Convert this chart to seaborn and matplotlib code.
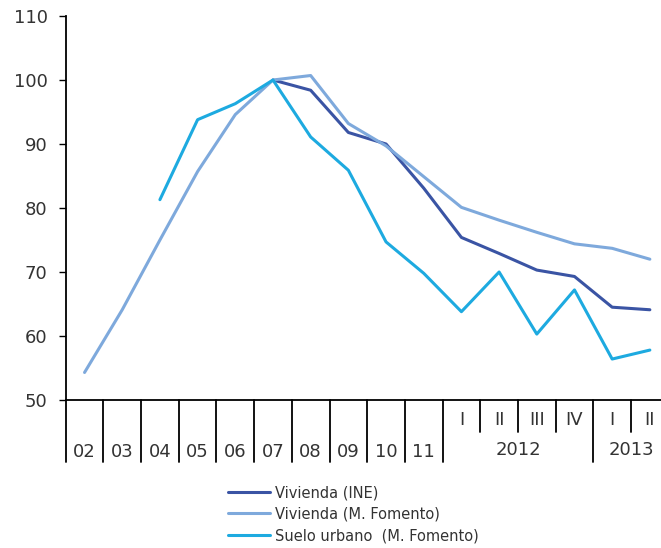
import matplotlib.pyplot as plt
import matplotlib.transforms as mtransforms
import seaborn as sns
import pandas as pd
import numpy as np

periods = ["02", "03", "04", "05", "06", "07", "08", "09", "10", "11",
           "2012 I", "2012 II", "2012 III", "2012 IV", "2013 I", "2013 II"]
tick_labels = ["02", "03", "04", "05", "06", "07", "08", "09", "10", "11",
               "I", "II", "III", "IV", "I", "II"]
years = ["2012", "2013"]

vivienda_ine = [np.nan, np.nan, np.nan, np.nan, np.nan, 100.0, 98.4, 91.8, 90.0, 83.1,
                75.4, 72.9, 70.3, 69.3, 64.5, 64.1]
vivienda_fomento = [54.3, 64.1, 75.0, 85.7, 94.6, 100.0, 100.7, 93.2, 89.7, 84.9,
                    80.1, 78.1, 76.2, 74.4, 73.7, 72.0]
suelo_urbano = [np.nan, np.nan, 81.3, 93.8, 96.3, 100.0, 91.1, 85.9, 74.7, 69.8,
                63.8, 70.0, 60.3, 67.2, 56.4, 57.8]

names = ["Vivienda (INE)", "Vivienda (M. Fomento)", "Suelo urbano  (M. Fomento)"]
colors = ["#3A54A4", "#7EA9DC", "#1DAAE0"]

rows = []
for name, vals in zip(names, [vivienda_ine, vivienda_fomento, suelo_urbano]):
    for i, v in enumerate(vals):
        rows.append({"serie": name, "pos": i, "valor": v})
df = pd.DataFrame(rows).dropna()

sns.set_theme(style="white")
plt.rcParams['font.family'] = ['DejaVu Sans']

fig = plt.figure(figsize=(6.61, 5.48), dpi=100)
W, H = 661, 548
ax = fig.add_axes([65.7 / W, 148 / H, 603 / W, 384 / H])

sns.lineplot(data=df, x="pos", y="valor", hue="serie", hue_order=names,
             palette=colors, linewidth=2.2, ax=ax, legend=True)

ax.set_xlim(-0.5, 15.5)
ax.set_ylim(50, 110)
ax.set_yticks(np.arange(50, 111, 10))
ax.set_xticks([])
ax.set_xlabel("")
ax.set_ylabel("")
ax.tick_params(axis="y", length=5, width=1, color="black", labelsize=13,
               labelcolor="#333333", pad=8, left=True, direction="out")
for s in ["top", "right"]:
    ax.spines[s].set_visible(False)
for s in ["left", "bottom"]:
    ax.spines[s].set_color("black")
    ax.spines[s].set_linewidth(1.3)

# multi-level category axis
trans = mtransforms.blended_transform_factory(ax.transData, ax.transAxes)
full = 62 / 384
short = 31.7 / 384
for b in np.arange(-0.5, 16, 1.0):
    length = short if b in (10.5, 11.5, 12.5, 14.5) else full
    ax.plot([b, b], [0, -length], transform=trans, color="black", lw=1.3,
            clip_on=False)

for i, lab in enumerate(tick_labels):
    y = -51.7 / 384 if i < 10 else -20 / 384
    ax.text(i, y, lab, transform=trans, ha="center", va="center",
            fontsize=13, color="#333333")
ax.text(11.5, -50 / 384, years[0], transform=trans, ha="center", va="center",
        fontsize=13, color="#333333")
ax.text(14.5, -50 / 384, years[1], transform=trans, ha="center", va="center",
        fontsize=13, color="#333333")

handles, labels = ax.get_legend_handles_labels()
ax.legend(handles=handles, labels=labels, loc="upper left",
          bbox_to_anchor=(228 / W, 1 - 485 / H), bbox_transform=fig.transFigure,
          frameon=False, fontsize=10.5, handlelength=2.9, handletextpad=0.35,
          labelspacing=0.45, borderpad=0, borderaxespad=0, labelcolor="#333333")

plt.savefig("out.png", dpi=100)
